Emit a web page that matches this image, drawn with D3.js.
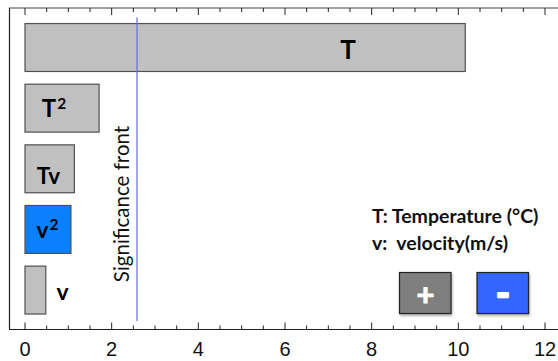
<!DOCTYPE html>
<html><head><meta charset="utf-8">
<script src="https://cdn.jsdelivr.net/npm/d3@7"></script>
<style>body{margin:0;background:#fff;}svg{display:block;}</style>
</head><body>
<svg id="chart" width="558" height="361"></svg>
<script>
const terms = ["T", "T²", "Tv", "v²", "v"];
const effects = [10.16, 1.71, 1.14, 1.06, 0.48];
const signs = ["+", "+", "+", "-", "+"];
const labelSups = [null, "2", null, "2", null];
const labelBases = ["T", "T", "Tv", "v", "v"];
const significance = 2.585;
const xTicks = [0, 2, 4, 6, 8, 10, 12];
const legendLines = ["T: Temperature (°C)", "v:  velocity(m/s)"];
const signLegend = ["+", "-"];

const svg = d3.select("#chart");
const x = d3.scaleLinear().domain([0, 12]).range([25, 545]);
const y = d3.scaleBand().domain(terms).range([17.2, 320.4]).paddingInner(0.21).paddingOuter(0.105);
const colorFor = s => s === "+" ? "#c0c0c0" : "#0a80ff";
const FONT = "Lato, Carlito, sans-serif";

// frame line (left)
svg.append("line").attr("x1", 9.5).attr("x2", 9.5).attr("y1", 8).attr("y2", 329.5).attr("stroke", "#222").attr("stroke-width", 1.2);
// bottom axis
const bottomG = svg.append("g").attr("transform", "translate(0,329.5)");
bottomG.append("line").attr("x1", 9).attr("x2", 558).attr("stroke", "#222").attr("stroke-width", 1.2);
const minor = d3.range(0, 12.01, 0.5);
bottomG.selectAll("line.t").data(minor).join("line").attr("class", "t")
  .attr("x1", d => x(d)).attr("x2", d => x(d))
  .attr("y1", 0).attr("y2", d => d % 2 === 0 ? -7 : -4).attr("stroke", "#222").attr("stroke-width", 1);
bottomG.selectAll("text").data(xTicks).join("text")
  .attr("x", d => x(d)).attr("y", 26).attr("text-anchor", "middle")
  .attr("font-family", "Liberation Sans, Arial, sans-serif").attr("font-size", 20).attr("fill", "#111")
  .text(d => d);
// top axis
const topG = svg.append("g").attr("transform", "translate(0,8)");
topG.append("line").attr("x1", 9).attr("x2", 558).attr("stroke", "#444").attr("stroke-width", 1.2);
topG.selectAll("line.t").data(minor).join("line").attr("class", "t")
  .attr("x1", d => x(d)).attr("x2", d => x(d))
  .attr("y1", 0).attr("y2", d => d % 2 === 0 ? 7 : 4).attr("stroke", "#222").attr("stroke-width", 1);

// bars
svg.selectAll("rect.bar").data(terms).join("rect").attr("class", "bar")
  .attr("x", x(0)).attr("y", d => y(d))
  .attr("width", (d, i) => x(effects[i]) - x(0)).attr("height", y.bandwidth())
  .attr("fill", (d, i) => colorFor(signs[i])).attr("stroke", "#505050").attr("stroke-width", 1.2);

// labels
const labelX = [348, 54, 48.5, 47.5, 62.7];
const labelDy = [11.8, 9.3, 15.6, 9, 10.3];
const labelSize = [26, 24, 22.5, 22.5, 23];
const lab = svg.selectAll("text.lab").data(terms).join("text").attr("class", "lab")
  .attr("x", (d, i) => labelX[i]).attr("y", (d, i) => y(d) + y.bandwidth() / 2 + labelDy[i])
  .attr("text-anchor", "middle").attr("font-family", FONT)
  .attr("font-weight", "bold").attr("font-size", (d, i) => labelSize[i]).attr("fill", "#000");
lab.append("tspan").text((d, i) => labelBases[i]);
lab.filter((d, i) => labelSups[i]).append("tspan").attr("dx", 1).attr("dy", -8).attr("font-size", 15.5)
  .text(d => labelSups[terms.indexOf(d)]);

// significance line
svg.append("line").attr("x1", x(significance)).attr("x2", x(significance))
  .attr("y1", 17.5).attr("y2", 321).attr("stroke", "#6b6bdf").attr("stroke-width", 1.2);
svg.append("text").attr("transform", `translate(128.5,204) rotate(-90)`)
  .attr("text-anchor", "middle").attr("font-family", FONT)
  .attr("font-size", 20.5).attr("fill", "#111").text("Significance front");

// legend text
svg.selectAll("text.leg").data(legendLines).join("text").attr("class", "leg")
  .attr("x", 372).attr("y", (d, i) => 223.3 + i * 26.5)
  .attr("font-family", FONT).attr("font-weight", "bold")
  .attr("font-size", 19.5).attr("fill", "#111").style("white-space", "pre").text(d => d);

// sign legend boxes
const boxX = [399.5, 477];
const boxCol = ["#7f7f7f", "#3366ff"];
const defs = svg.append("defs");
const f = defs.append("filter").attr("id", "sh").attr("x", "-20%").attr("y", "-20%").attr("width", "150%").attr("height", "160%");
f.append("feDropShadow").attr("dx", 1).attr("dy", 2).attr("stdDeviation", 1.2).attr("flood-color", "#000").attr("flood-opacity", 0.3);
signLegend.forEach((s, i) => {
  svg.append("rect").attr("x", boxX[i]).attr("y", 272.5).attr("width", 51.5).attr("height", 41)
    .attr("fill", boxCol[i]).attr("stroke", "#222").attr("stroke-width", 1.2).attr("filter", "url(#sh)");
});
svg.selectAll("text.sg").data(signLegend).join("text").attr("class", "sg")
  .attr("x", (d, i) => boxX[i] + 26).attr("y", 306)
  .attr("text-anchor", "middle").attr("font-family", FONT).attr("font-weight", "bold")
  .attr("font-size", (d, i) => i === 0 ? 31 : 36).attr("fill", "#fff")
  .attr("stroke", "#fff").attr("stroke-width", (d, i) => i === 0 ? 1 : 2.5).attr("stroke-linejoin", "round")
  .text(d => d);
</script>
</body></html>
